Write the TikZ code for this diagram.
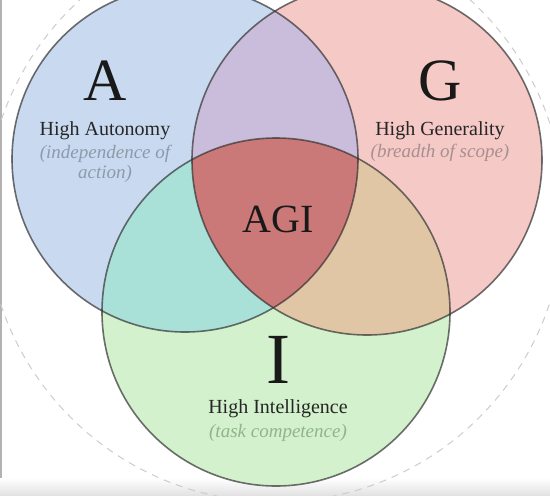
\documentclass[tikz,border=0pt]{standalone}
\usepackage{tikz}
\usepackage{fontspec}
\setmainfont{Liberation Serif}
\usetikzlibrary{positioning}

\definecolor{autoblue}{HTML}{C9DAF0}
\definecolor{genred}{HTML}{F5C9C6}
\definecolor{intgreen}{HTML}{D2F1CC}
\definecolor{agmix}{HTML}{CABDDC}
\definecolor{aimix}{HTML}{A9E1D8}
\definecolor{gimix}{HTML}{E1C6A6}
\definecolor{agicore}{HTML}{CB7878}
\definecolor{notea}{HTML}{8E99AA}
\definecolor{noteg}{HTML}{A88F8F}
\definecolor{notei}{HTML}{92B38D}

\tikzset{
  rim/.style={draw=black!80,draw opacity=0.7,line width=1.6pt},
  bigletter/.style={anchor=base,text=black!90},
  title/.style={anchor=base,text=black!85,font=\fontsize{20}{20}\selectfont},
  note/.style={anchor=base,align=center,font=\itshape\fontsize{19}{20}\selectfont}
}

\begin{document}
\begin{tikzpicture}[x=1pt,y=-1pt]
            \useasboundingbox (0,0) rectangle (550,496);
            \coordinate (a) at (185,159);
            \coordinate (g) at (367,160);
            \coordinate (i) at (276,312);
            \coordinate (o) at (275,213);

            % screen edges
            \shade[top color=white,bottom color=black!12] (0,478) rectangle (550,496);
            \draw[black!30,line width=2pt] (1,0) -- (1,478);

            \draw[black!20,line width=1pt,dash pattern=on 7pt off 6pt] (o) circle (289pt);

            \fill[autoblue] (a) circle (173pt);
            \fill[genred] (g) circle (175pt);
            \fill[intgreen] (i) circle (174pt);

            \begin{scope}
                \clip (a) circle (173pt);
                \fill[agmix] (g) circle (175pt);
                \fill[aimix] (i) circle (174pt);
            \end{scope}
            \begin{scope}
                \clip (g) circle (175pt);
                \fill[gimix] (i) circle (174pt);
            \end{scope}
            \begin{scope}
                \clip (a) circle (173pt);
                \clip (g) circle (175pt);
                \fill[agicore] (i) circle (174pt);
            \end{scope}

            \draw[rim] (a) circle (173pt);
            \draw[rim] (g) circle (175pt);
            \draw[rim] (i) circle (174pt);

            \node[bigletter,font=\fontsize{60}{60}\selectfont] (letA) at (105,100) {A};
            \node[title] (titleA) at (105,135) {High Autonomy};
            \node[note,text=notea] (noteA) at (105,178) {(independence of\\action)};

            \node[bigletter,font=\fontsize{60}{60}\selectfont] (letG) at (440,100) {G};
            \node[title] (titleG) at (440,135) {High Generality};
            \node[note,text=noteg] (noteG) at (440,157) {(breadth of scope)};

            \node[bigletter,font=\fontsize{40}{40}\selectfont] (core) at (278,232) {AGI};

            \node[bigletter,font=\fontsize{72}{72}\selectfont] (letI) at (278,383) {I};
            \node[title] (titleI) at (278,413) {High Intelligence};
            \node[note,text=notei] (noteI) at (278,437) {(task competence)};
\end{tikzpicture}
\end{document}
